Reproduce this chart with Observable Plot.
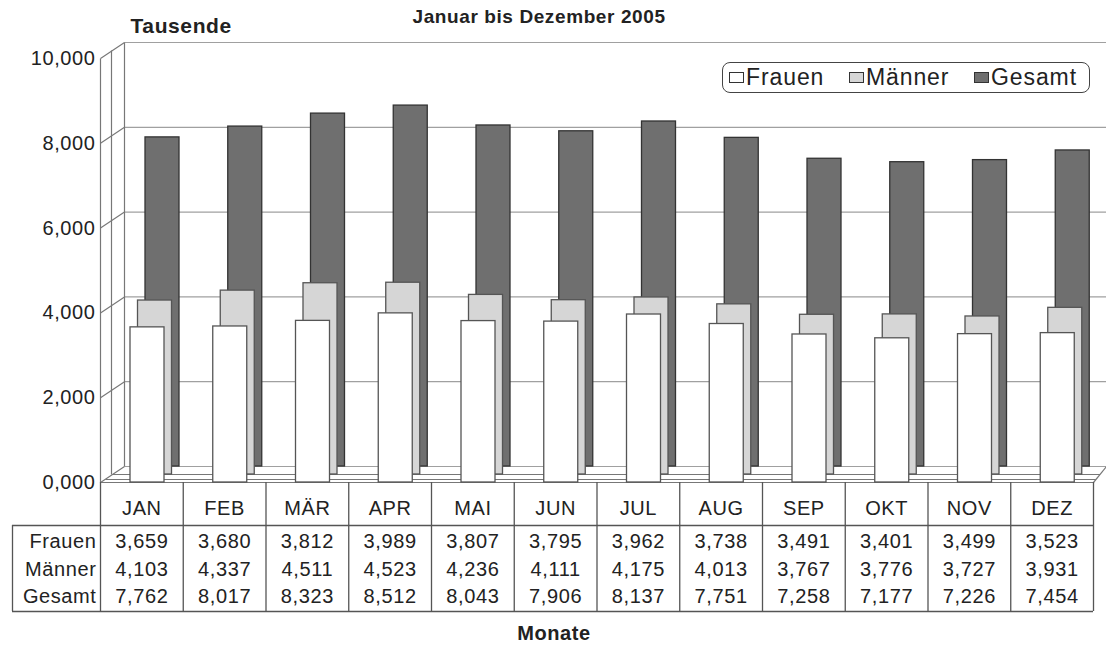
<!DOCTYPE html>
<html>
<head>
<meta charset="utf-8">
<script src="https://cdn.jsdelivr.net/npm/d3@7"></script>
<script src="https://cdn.jsdelivr.net/npm/@observablehq/plot@0.6"></script>
<style>
  html, body { margin: 0; padding: 0; background: #fff; }
  #wrap { position: relative; width: 1106px; height: 656px; overflow: hidden; font-family: "Liberation Sans", Arial, sans-serif; }
  #legend { position: absolute; left: 722px; top: 62px; width: 368px; height: 31px; border: 1.5px solid #444; border-radius: 8px; display: flex; align-items: center; justify-content: space-between; font-size: 23px; letter-spacing: 0.9px; color: #222; box-sizing: border-box; padding: 0 12px 0 6px; }
  #legend .it { display: flex; align-items: center; }
  #legend .sw { width: 15px; height: 11px; border: 1px solid #333; margin-right: 2px; box-sizing: border-box; }
</style>
</head>
<body>
<div id="wrap"></div>
<script>
// ---- data ----
const months = ["JAN", "FEB", "MÄR", "APR", "MAI", "JUN", "JUL", "AUG", "SEP", "OKT", "NOV", "DEZ"];
const frauen = [3.659, 3.680, 3.812, 3.989, 3.807, 3.795, 3.962, 3.738, 3.491, 3.401, 3.499, 3.523];
const maenner = [4.103, 4.337, 4.511, 4.523, 4.236, 4.111, 4.175, 4.013, 3.767, 3.776, 3.727, 3.931];
const gesamt = [7.762, 8.017, 8.323, 8.512, 8.043, 7.906, 8.137, 7.751, 7.258, 7.177, 7.226, 7.454];
const seriesNames = ["Frauen", "Männer", "Gesamt"];
const yTicks = [0, 2, 4, 6, 8, 10];
const titleText = "Januar bis Dezember 2005";
const yLabel = "Tausende";
const xLabel = "Monate";

// ---- layout ----
const W = 1106, H = 656, mL = 100, mR = 13, mT = 58, mB = 174;
const ux = px => px * months.length / (W - mL - mR);
const uy = px => px * 10 / (H - mT - mB);
const step = (W - mL - mR) / months.length;

const loc = d3.formatLocale({decimal: ",", thousands: ".", grouping: [3], currency: ["", "€"]});
const fmt = loc.format(".3f");

const rows = months.map((m, i) => ({i, month: m, Frauen: frauen[i], "Männer": maenner[i], Gesamt: gesamt[i]}));

const styles = {
  Frauen: {fill: "#ffffff", stroke: "#555", dx: 0, dy: 0},
  "Männer": {fill: "#d6d6d6", stroke: "#555", dx: 7.5, dy: -8},
  Gesamt: {fill: "#6f6f6f", stroke: "#333", dx: 15, dy: -16}
};

// wall geometry (pixel depth -> data units)
const bx = ux(24), by = uy(16);
const rightX = months.length + ux(13);
const wallLinks = [
  {x1: 0, y1: 0, x2: 0, y2: 10},
  {x1: ux(11), y1: uy(8), x2: ux(11), y2: 10 + uy(8)},
  {x1: bx, y1: by, x2: bx, y2: 10 + by},
  ...yTicks.map(t => ({x1: 0, y1: t, x2: bx, y2: t + by})),
  {x1: months.length, y1: 0, x2: rightX, y2: by}
];
const gridLinks = yTicks.map(t => ({x1: bx, y1: t + by, x2: rightX, y2: t + by}));
const floorLinks = [
  {x1: 0, y1: 0, x2: months.length, y2: 0},
  {x1: ux(12), y1: uy(8), x2: months.length + ux(6.5), y2: uy(8)},
  {x1: ux(5), y1: uy(3), x2: months.length + ux(2.5), y2: uy(3)}
];

// table geometry
const tHeadBottom = -uy(43), tBottom = -uy(129), tLeft = -ux(88);
const rowDy = [59, 87, 114];

const txt = {fontSize: 20, fill: "#222"};

const marks = [
  Plot.link(gridLinks, {x1: "x1", y1: "y1", x2: "x2", y2: "y2", stroke: "#a0a0a0", strokeWidth: 1.2}),
  Plot.link(wallLinks, {x1: "x1", y1: "y1", x2: "x2", y2: "y2", stroke: "#777", strokeWidth: 1.2}),
  Plot.link(floorLinks, {x1: "x1", y1: "y1", x2: "x2", y2: "y2", stroke: "#777", strokeWidth: 1.2}),
  ...["Gesamt", "Männer", "Frauen"].map(s =>
    Plot.rectY(rows, {x1: d => d.i, x2: d => d.i + 1, y1: 0, y2: s, insetLeft: 30, insetRight: step - 64,
      fill: styles[s].fill, stroke: styles[s].stroke, strokeWidth: 1.3, dx: styles[s].dx, dy: styles[s].dy})
  ),
  Plot.axisY(yTicks, {tickSize: 0, tickPadding: 5, tickFormat: fmt, ...txt, label: null}),
  Plot.ruleX(d3.range(months.length + 1), {y1: 0, y2: tBottom, stroke: "#555", strokeWidth: 1.3}),
  Plot.ruleX([tLeft], {y1: tHeadBottom, y2: tBottom, stroke: "#555", strokeWidth: 1.3}),
  Plot.ruleY([tHeadBottom, tBottom], {x1: tLeft, x2: months.length, stroke: "#555", strokeWidth: 1.3}),
  Plot.text(rows, {x: d => d.i + 0.5, y: 0, text: "month", dy: 26, ...txt}),
  ...seriesNames.map((s, k) => Plot.text([s], {x: 0, y: 0, text: d => d, textAnchor: "end", dx: -4, dy: rowDy[k], ...txt})),
  ...seriesNames.map((s, k) => Plot.text(rows, {x: d => d.i + 0.5, y: 0, text: d => fmt(d[s]), dy: rowDy[k], ...txt})),
  Plot.text([titleText], {frameAnchor: "top", dx: -58, dy: -49, text: d => d, fontSize: 19, fontWeight: "bold", fill: "#222"}),
  Plot.text([yLabel], {frameAnchor: "top-left", dx: 30, dy: -40, text: d => d, textAnchor: "start", fontSize: 21, fontWeight: "bold", fill: "#222"}),
  Plot.text([xLabel], {frameAnchor: "bottom", dx: -43, dy: 157, text: d => d, fontSize: 20, fontWeight: "bold", fill: "#222"})
];

const chart = Plot.plot({
  width: W, height: H,
  marginLeft: mL, marginRight: mR, marginTop: mT, marginBottom: mB,
  x: {type: "linear", domain: [0, months.length], axis: null},
  y: {domain: [0, 10], axis: null},
  style: {fontFamily: "'Liberation Sans', Arial, sans-serif", background: "#fff", overflow: "hidden", letterSpacing: "0.6px"},
  marks
});
const wrap = document.getElementById("wrap");
wrap.appendChild(chart);

const legend = document.createElement("div");
legend.id = "legend";
const swFill = {Frauen: "#ffffff", "Männer": "#d6d6d6", Gesamt: "#6f6f6f"};
seriesNames.forEach(s => {
  const it = document.createElement("div"); it.className = "it";
  const sw = document.createElement("div"); sw.className = "sw"; sw.style.background = swFill[s];
  const t = document.createElement("span"); t.textContent = s;
  it.appendChild(sw); it.appendChild(t); legend.appendChild(it);
});
wrap.appendChild(legend);
</script>
</body>
</html>
